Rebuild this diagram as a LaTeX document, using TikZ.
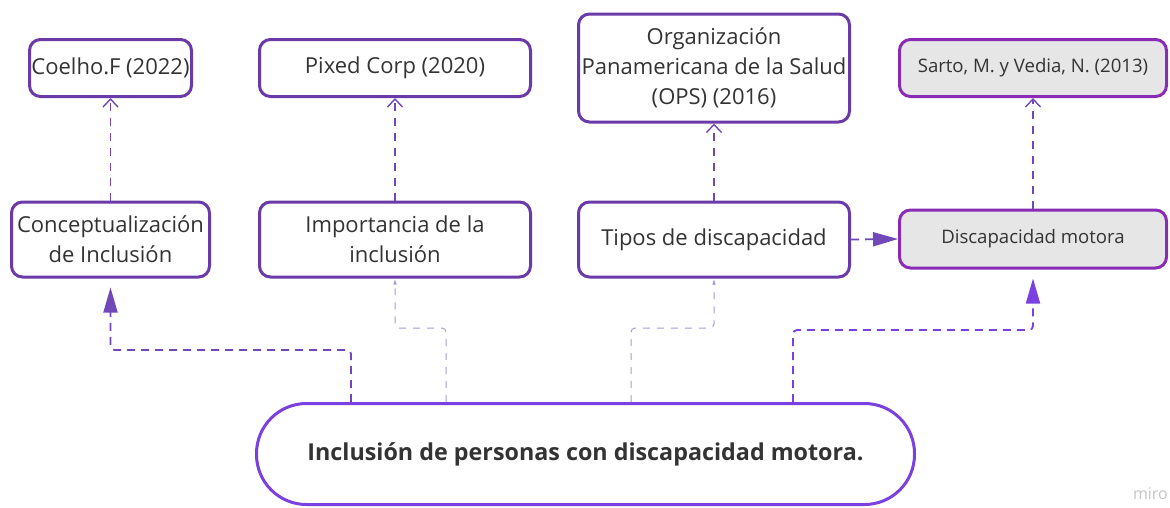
\documentclass[tikz,border=0pt]{standalone}
\usepackage{fontspec}
\setmainfont{Open Sans}
\usetikzlibrary{arrows.meta,calc}
\definecolor{boxpurple}{HTML}{6A3BA8}
\definecolor{magpurple}{HTML}{8A2BB5}
\definecolor{brightpurple}{HTML}{7A40E0}
\definecolor{dashpurple}{HTML}{7048B8}
\definecolor{lightline}{HTML}{A898D8}
\definecolor{txt}{HTML}{333333}
\definecolor{grayfill}{HTML}{E6E6E6}
\definecolor{mirogray}{HTML}{C4C4C4}
\begin{document}
\begin{tikzpicture}[x=1pt,y=-1pt,
  box/.style={draw=boxpurple,line width=3pt,rounded corners=11pt,fill=white,text=txt,
    font=\fontsize{22}{30}\selectfont,align=center,inner sep=0pt},
  graybox/.style={box,draw=magpurple,fill=grayfill,font=\fontsize{18.6}{22}\selectfont},
  mainbox/.style={draw=brightpurple,line width=3pt,rounded corners=50pt,fill=white,text=txt,
    font=\fontsize{23.3}{28}\selectfont\bfseries,inner sep=0pt},
  updash/.style={draw=dashpurple,line width=1.4pt,dash pattern=on 8pt off 7pt,
    -{Straight Barb[length=8pt,width=15pt,line width=1.4pt]}},
  darkroute/.style={draw=dashpurple,line width=1.8pt,dash pattern=on 8pt off 6pt,rounded corners=4pt,
    shorten >=9pt,-{Triangle[length=25pt,width=14pt]}},
  lightroute/.style={draw=lightline,line width=1pt,dash pattern=on 7pt off 7pt,rounded corners=4pt,
    -{Latex[length=6pt,width=3.5pt]}}
]
\useasboundingbox (0,0) rectangle (1170,507);
% top row
\node[box,minimum width=162pt,minimum height=57pt] (coelho) at (110.5,68) {Coelho.F (2022)};
\node[box,minimum width=271pt,minimum height=57pt] (pixed) at (395,68) {Pixed Corp (2020)};
\node[box,minimum width=271pt,minimum height=108pt] (ops) at (714,68) {Organización\\Panamericana de la Salud\\(OPS) (2016)};
\node[graybox,minimum width=267pt,minimum height=57pt] (sarto) at (1033,68) {Sarto, M. y Vedia, N. (2013)};
% middle row
\node[box,minimum width=198pt,minimum height=75pt] (concept) at (110.5,239.5) {Conceptualización\\de Inclusión};
\node[box,minimum width=271pt,minimum height=75pt] (import) at (395,239.5) {Importancia de la\\inclusión};
\node[box,minimum width=271pt,minimum height=75pt] (tipos) at (714,239.5) {Tipos de discapacidad};
\node[graybox,minimum width=267pt,minimum height=58pt] (motora) at (1033,239) {Discapacidad motora};
% main
\node[mainbox,minimum width=658pt,minimum height=101pt] (main) at (585.5,454) {Inclusión de personas con discapacidad motora.};
\node[text=mirogray,font=\fontsize{16}{16}\selectfont,anchor=east,inner sep=0pt] (miro) at (1168,494) {miro};
% helper coordinates
\coordinate (s1) at (351,0);
\coordinate (s2) at (446,0);
\coordinate (s3) at (631,0);
\coordinate (s4) at (793,0);
\coordinate (e1) at (0,350);
\coordinate (e2) at (0,328);
\coordinate (e3) at (0,330);
% vertical references
\draw[updash] (concept.north) -- (coelho.south);
\draw[updash] (import.north) -- (pixed.south);
\draw[updash] (tipos.north) -- (ops.south);
\draw[updash] (motora.north) -- (sarto.south);
% routes from main
\draw[darkroute] (s1 |- main.north) -- (s1 |- e1) -| (concept.south);
\draw[lightroute] (s2 |- main.north) -- (s2 |- e2) -| (import.south);
\draw[lightroute] (s3 |- main.north) -- (s3 |- e2) -| (tipos.south);
\draw[darkroute,draw=brightpurple] (s4 |- main.north) -- (s4 |- e3) -| (motora.south);
% tipos -> motora
\draw[draw=dashpurple,line width=1.8pt,dash pattern=on 8pt off 6pt,-{Triangle[length=25pt,width=14pt]}] (tipos.east) -- (motora.west);
\end{tikzpicture}
\end{document}
